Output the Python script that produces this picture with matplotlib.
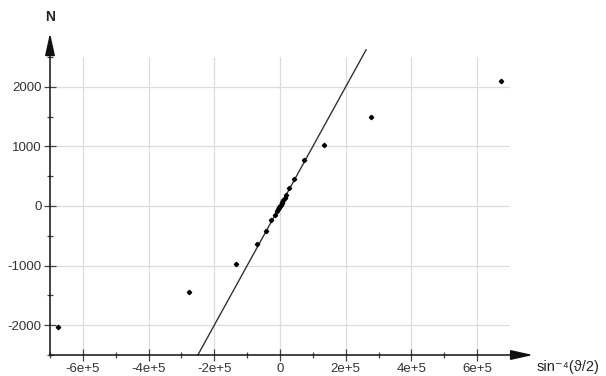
import matplotlib.pyplot as plt
import numpy as np

plt.rcParams['font.family'] = ['Liberation Sans', 'DejaVu Sans']

# measured points
x_data = [-676000, -276600, -133000, -69900, -41600, -26400, -16100, -10000,
          -6000, -4000, -2000, 0, 2000, 5000, 7000, 10000, 14000, 18000,
          27400, 43600, 73000, 133800, 276600, 674000]
n_data = [-2027, -1437, -975, -632, -418, -233, -149, -76,
          -55, -30, -15, 0, 20, 47, 65, 93, 130, 177,
          307, 447, 767, 1030, 1500, 2105]

# fitted line N = k * x
slope = 0.01
line_x = [-250000, 262000]

xticks = [-6e5, -4e5, -2e5, 0, 2e5, 4e5, 6e5]
xtick_labels = ['-6e+5', '-4e+5', '-2e+5', '0', '2e+5', '4e+5', '6e+5']
yticks = [-2000, -1000, 0, 1000, 2000]
ytick_labels = ['-2000', '-1000', '0', '1000', '2000']

fig = plt.figure(figsize=(6.06, 3.76), dpi=100)
ax = fig.add_axes([50/606, 21/376, 460/606, 298/376])

ax.set_xlim(-7e5, 7e5)
ax.set_ylim(-2500, 2500)

ax.grid(True, color='#dcdcdc', lw=0.9)
ax.set_axisbelow(True)

lx = np.array(line_x)
ax.plot(lx, slope * lx, color='#333333', lw=1.0, clip_on=False, zorder=3)
ax.plot(x_data, n_data, ls='none', marker='D', ms=2.2, color='black', zorder=4)

for s in ax.spines.values():
    s.set_visible(False)

ax.set_xticks(xticks)
ax.set_xticklabels(xtick_labels)
ax.set_xticks(np.arange(-7e5, 7.01e5, 1e5), minor=True)
ax.set_yticks(yticks)
ax.set_yticklabels(ytick_labels)
ax.set_yticks(np.arange(-2500, 2501, 500), minor=True)
ax.tick_params(which='major', direction='inout', length=8, width=0.9,
               color='#444444', labelsize=9.5, labelcolor='#333333', pad=2)
ax.tick_params(which='minor', direction='inout', length=5, width=0.9,
               color='#444444')
ax.tick_params(axis='x', which='major', pad=1.5)

# axis arrows
arrow = dict(arrowstyle='-|>,head_length=1.35,head_width=0.3', color='#111111',
             lw=1.1, shrinkA=0, shrinkB=0, mutation_scale=10)
ax.annotate('', xy=(0, 1.08), xytext=(0, 0), xycoords='axes fraction',
            arrowprops=arrow, annotation_clip=False)
ax.annotate('', xy=(1.05, 0), xytext=(0, 0), xycoords='axes fraction',
            arrowprops=arrow, annotation_clip=False)

fig.text(50/606, 1 - 17/376, 'N', ha='center', va='center', fontsize=10,
         fontweight='bold', color='#222222')
fig.text(568/606, 1 - 367/376, 'sin\u207b\u2074(\u03d1/2)', ha='center',
         va='center', fontsize=10.5, color='#222222')

fig.savefig('out.png', dpi=100)
